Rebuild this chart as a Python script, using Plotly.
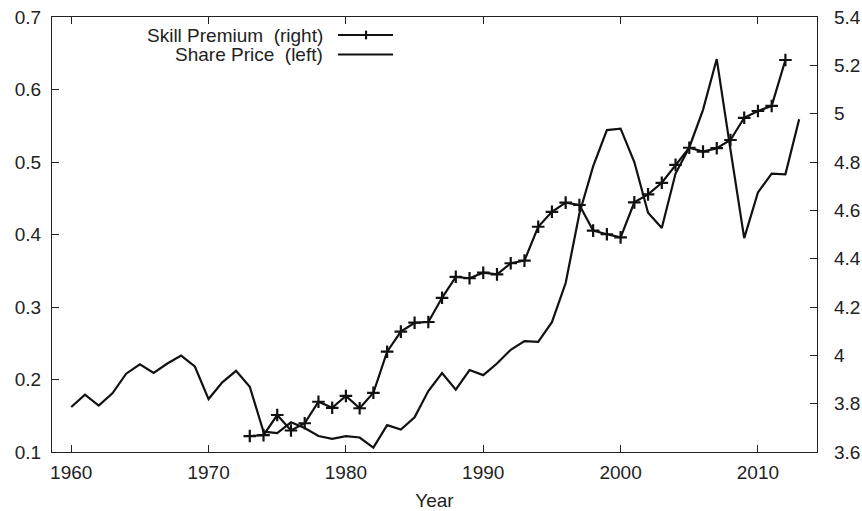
import plotly.graph_objects as go

share_years = list(range(1960, 2014))
share_price = [0.162, 0.179, 0.164, 0.181, 0.208, 0.221, 0.209, 0.222, 0.233, 0.218,
               0.173, 0.196, 0.212, 0.190, 0.128, 0.126, 0.141, 0.133, 0.122, 0.118,
               0.122, 0.120, 0.106, 0.137, 0.131, 0.148, 0.184, 0.209, 0.186, 0.213,
               0.206, 0.222, 0.241, 0.253, 0.252, 0.279, 0.333, 0.429, 0.494, 0.544,
               0.546, 0.500, 0.430, 0.409, 0.484, 0.520, 0.572, 0.642, 0.517, 0.395,
               0.458, 0.484, 0.483, 0.559]

skill_years = list(range(1973, 2013))
skill_premium = [3.666, 3.670, 3.753, 3.689, 3.719, 3.808, 3.783, 3.832, 3.781, 3.845,
                 4.015, 4.098, 4.135, 4.138, 4.238, 4.325, 4.319, 4.342, 4.335, 4.381,
                 4.392, 4.532, 4.594, 4.632, 4.622, 4.516, 4.501, 4.488, 4.633, 4.666,
                 4.714, 4.788, 4.859, 4.843, 4.857, 4.891, 4.983, 5.011, 5.032, 5.222]

x_ticks = [1960, 1970, 1980, 1990, 2000, 2010]
left_ticks = [0.1, 0.2, 0.3, 0.4, 0.5, 0.6, 0.7]
left_labels = ["0.1", "0.2", "0.3", "0.4", "0.5", "0.6", "0.7"]
right_ticks = [3.6, 3.8, 4.0, 4.2, 4.4, 4.6, 4.8, 5.0, 5.2, 5.4]
right_labels = ["3.6", "3.8", "4", "4.2", "4.4", "4.6", "4.8", "5", "5.2", "5.4"]

FONT = "Liberation Sans, Arial, Helvetica, sans-serif"
TXT = "#222222"
FS = 19

fig = go.Figure()
fig.add_trace(go.Scatter(x=share_years, y=share_price, mode="lines",
                         line=dict(color="#111111", width=2.2),
                         name="Share Price  (left)", yaxis="y"))
fig.add_trace(go.Scatter(x=skill_years, y=skill_premium, mode="lines+markers",
                         line=dict(color="#111111", width=2.2),
                         marker=dict(symbol="cross-thin", size=9,
                                     line=dict(color="#111111", width=2.2)),
                         name="Skill Premium  (right)", yaxis="y2"))

axis_common = dict(showgrid=False, zeroline=False, showline=True, linecolor="#222222",
                   linewidth=1.3, ticks="inside", ticklen=7, tickcolor="#222222",
                   tickwidth=1, tickfont=dict(family=FONT, size=FS, color=TXT),
                   automargin=False, ticklabeloverflow="allow")

fig.update_layout(
    width=862, height=511,
    margin=dict(l=52, r=45, t=17, b=59),
    paper_bgcolor="white", plot_bgcolor="white",
    showlegend=False,
    xaxis=dict(range=[1958.6, 2014.3], tickvals=x_ticks, mirror="ticks",
               title=dict(text="Year", font=dict(family=FONT, size=FS, color=TXT), standoff=13),
               ticklabelstandoff=3, **axis_common),
    yaxis=dict(range=[0.1, 0.7], tickvals=left_ticks, ticktext=left_labels, mirror=True,
               ticklabelstandoff=6, **axis_common),
    yaxis2=dict(range=[3.6, 5.4], tickvals=right_ticks, ticktext=right_labels,
                overlaying="y", side="right", ticklabelstandoff=12, **axis_common),
)

# legend drawn manually: text right-aligned, sample on its right
leg_rows = [("Skill Premium\u00a0\u00a0(right)", 0.9586, True),
            ("Share Price\u00a0\u00a0(left)", 0.9138, False)]
for text, yy, mk in leg_rows:
    fig.add_annotation(xref="paper", yref="paper", x=0.357, y=yy, text=text,
                       showarrow=False, xanchor="right", yanchor="middle",
                       font=dict(family=FONT, size=FS, color=TXT))
    fig.add_shape(type="line", xref="paper", yref="paper", x0=0.3739, x1=0.4458,
                  y0=yy, y1=yy, line=dict(color="#111111", width=2.2))
    if mk:
        fig.add_shape(type="line", xref="paper", yref="paper", x0=0.4105, x1=0.4105,
                      y0=yy - 0.01, y1=yy + 0.01, line=dict(color="#111111", width=2.2))

# remove the browser's default 8px body margin so the figure fills the window
fig.write_html("out.html", config={"displayModeBar": False},
               post_script="document.body.style.margin='0';document.body.style.overflow='hidden';")
